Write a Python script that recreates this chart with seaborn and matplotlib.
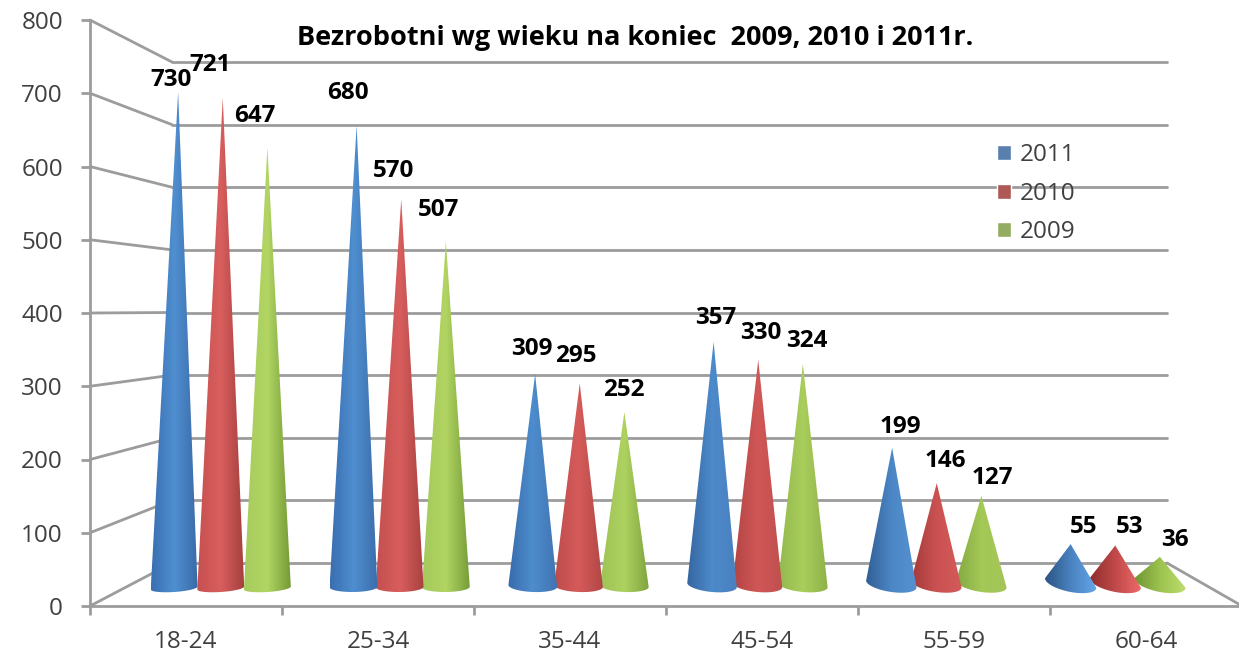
import numpy as np
import pandas as pd
import seaborn as sns
from matplotlib import pyplot as plt
from matplotlib.colors import LinearSegmentedColormap, to_rgb
from matplotlib.patches import ConnectionPatch, Polygon

age_groups = ['18-24', '25-34', '35-44', '45-54', '55-59', '60-64']
years = ['2011', '2010', '2009']
values_2011 = [730, 680, 309, 357, 199, 55]
values_2010 = [721, 570, 295, 330, 146, 53]
values_2009 = [647, 507, 252, 324, 127, 36]
y_ticks = [0, 100, 200, 300, 400, 500, 600, 700, 800]
title = 'Bezrobotni wg wieku na koniec  2009, 2010 i 2011r.'

legend_colors = ['#4a7ebb', '#be4b48', '#98b954']
# left, middle, right of each cone: first group and last group
shades_first = [['#3a6fb2', '#4f8fd0', '#3a6aa8'], ['#c65150', '#d95f5e', '#a5403e'], ['#a6cc5e', '#b2d563', '#739a35']]
shades_last = [['#2c5584', '#4a82c0', '#66a6e8'], ['#8f2e2e', '#c24a4a', '#ee6a6a'], ['#6f9532', '#9cc24f', '#bedd6d']]
# where each number sits relative to its cone tip, in pixels
label_shift = [
    [(-7, 12), (-9, 32), (-3, 25), (2, 24), (8, 21), (13, 17)],
    [(-13, 33), (-8, 28), (-4, 27), (3, 27), (9, 22), (14, 18)],
    [(-13, 32), (-7, 31), (-1, 22), (4, 23), (11, 18), (15, 17)],
]
base_lean = [-4, -2, 0]

W, H = 1239, 653
GRAY = '#9c9c9c'
TEXT = '#404040'
FONT = 17.5


def px_axes(fig, left, top, right, bottom):
    return fig.add_axes([left / W, 1 - bottom / H, (right - left) / W, (bottom - top) / H])


def draw_cone(ax, bar, group, series, px_x, px_y):
    x0, w, h = bar.get_x(), bar.get_width(), bar.get_height()
    xc = x0 + w / 2
    a = w / 2 * (1.05 + 0.02 * group)
    # base ellipse, it turns a little from group to group (perspective)
    xb = xc + base_lean[series] * (1 - group / 5) * px_x
    drop = (7 - group) * px_y
    tilt = (-1.5 + 1.25 * group) * px_y
    b = (4 + group) * px_y
    t = np.linspace(np.pi, 2 * np.pi, 40)
    xs = xb + a * np.cos(t)
    ys = -drop + b * np.sin(t) - tilt * np.cos(t)
    pts = [(xc, h)] + list(zip(xs, ys))
    blend = (group / 5) ** 2
    stops = [(1 - blend) * np.array(to_rgb(p)) + blend * np.array(to_rgb(q))
             for p, q in zip(shades_first[series], shades_last[series])]
    cmap = LinearSegmentedColormap.from_list('cone', stops)
    img = ax.imshow(np.linspace(0, 1, 128)[None, :], cmap=cmap, aspect='auto',
                    extent=[xb - a, xb + a, -drop - 2 * b - abs(tilt), h], zorder=3, interpolation='bilinear')
    img.set_clip_path(Polygon(pts, closed=True, transform=ax.transData))


df = pd.DataFrame({
    'age': age_groups * 3,
    'year': np.repeat(years, len(age_groups)),
    'value': values_2011 + values_2010 + values_2009,
})

sns.set_theme(style='white')
plt.rcParams['font.family'] = ['Open Sans', 'DejaVu Sans']

fig = plt.figure(figsize=(W / 100, H / 100), dpi=100)

# back wall
ax_back = px_axes(fig, 172, 62, 1167, 563)
ax_back.set_ylim(0, 800)
ax_back.set_yticks(y_ticks)
ax_back.set_xticks([])
ax_back.tick_params(left=False, labelleft=False)
ax_back.grid(axis='y', color=GRAY, lw=2)
for line in ax_back.get_ygridlines():
    line.set_clip_on(False)
sns.despine(ax=ax_back, left=True, bottom=True)
ax_back.patch.set_alpha(0)
ax_back.set_zorder(1)

# front axis with the labels
ax = px_axes(fig, 90, 20, 1239, 606)
ax.set_ylim(0, 800)
ax.set_xlim(0, 1149 / 192)
ax.set_yticks(y_ticks)
ax.set_xticks(range(6))
ax.set_xticks(np.arange(len(age_groups)) + 0.5, age_groups, minor=True)
ax.tick_params(axis='y', left=True, length=6.5, width=2, color=GRAY, pad=13, labelsize=FONT, labelcolor=TEXT)
ax.tick_params(axis='x', which='major', bottom=True, length=6.5, width=2, color=GRAY, labelbottom=False)
ax.tick_params(axis='x', which='minor', bottom=False, length=0, pad=17, labelsize=FONT, labelcolor=TEXT)
for side in ['top', 'right']:
    ax.spines[side].set_visible(False)
for side in ['left', 'bottom']:
    ax.spines[side].set_color(GRAY)
    ax.spines[side].set_linewidth(2)
ax.patch.set_alpha(0)
ax.set_zorder(2)

# lines from the front axis to the back wall
for v in y_ticks:
    fig.add_artist(ConnectionPatch((0, v), (0, v), 'data', 'data', axesA=ax, axesB=ax_back,
                                   color=GRAY, lw=2, zorder=3))
fig.add_artist(ConnectionPatch((1, 0.003), (1, 0), 'axes fraction', 'axes fraction', axesA=ax, axesB=ax_back,
                               color=GRAY, lw=2, zorder=3))

# cones, taken from the seaborn bars; the axes reach below 0 for the round bases
px_y = 1 / 0.67
px_x = 6 / (1204.5 - 133.5)
ax_cones = px_axes(fig, 133.5, 581 - 0.67 * 800, 1204.5, 600)
sns.barplot(data=df, x='age', y='value', hue='year', hue_order=years, palette=legend_colors,
            width=0.75, ax=ax_cones, errorbar=None)
for s in range(len(years) - 1, -1, -1):
    bars = ax_cones.containers[s]
    for g, bar in enumerate(bars):
        draw_cone(ax_cones, bar, g, s, px_x, px_y)
        bar.set_visible(False)
        dx, dy = label_shift[s][g]
        ax_cones.annotate(str(int(bar.get_height())), (bar.get_x() + bar.get_width() / 2, bar.get_height()),
                          xytext=(dx, dy), textcoords='offset pixels', ha='center', va='center',
                          fontsize=FONT, fontweight='bold', color='black', zorder=6, annotation_clip=False)
ax_cones.set_xlim(-0.5, 5.5)
ax_cones.set_ylim(-19 * px_y, 800)
ax_cones.set(xlabel='', ylabel='')
ax_cones.set_xticks([])
ax_cones.set_yticks([])
sns.despine(ax=ax_cones, left=True, bottom=True)
ax_cones.patch.set_alpha(0)
ax_cones.set_zorder(5)

leg = ax_cones.legend(loc='upper left', bbox_to_anchor=(990 / W, 1 - 136 / H), bbox_transform=fig.transFigure,
                      frameon=False, fontsize=FONT, handlelength=0.57, handleheight=0.57,
                      handletextpad=0.36, labelspacing=0.6, borderpad=0.3, borderaxespad=0)
for text in leg.get_texts():
    text.set_color(TEXT)

fig.text(635 / W, 1 - 38 / H, title, ha='center', va='center', fontsize=19.5, fontweight='bold', color='black')

fig.savefig('out.png', dpi=100)
